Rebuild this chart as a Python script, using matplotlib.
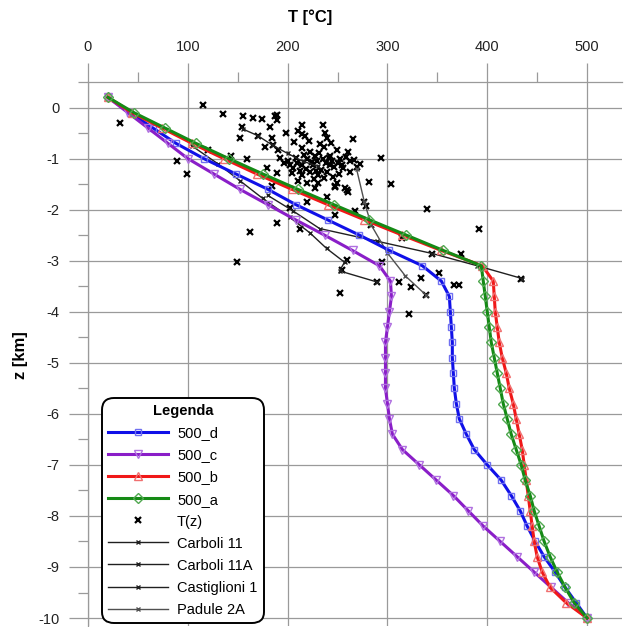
import matplotlib
matplotlib.use("Agg")
import matplotlib.pyplot as plt
from matplotlib.ticker import FixedLocator

plt.rcParams['font.family'] = ['Liberation Sans', 'DejaVu Sans']

# ---------------- data ----------------
z_model = [0.2, -0.1, -0.4, -0.7, -1.0, -1.3, -1.6, -1.9, -2.2, -2.5, -2.8, -3.1,
           -3.4, -3.7, -4.0, -4.3, -4.6, -4.9, -5.2, -5.5, -5.8, -6.1, -6.4, -6.7,
           -7.0, -7.3, -7.6, -7.9, -8.2, -8.5, -8.8, -9.1, -9.4, -9.7, -10.0]

t_500_d = [20, 42, 65, 88, 116, 148, 180, 208, 240, 272, 302, 335,
           354, 362, 363, 364, 365, 365, 366, 367, 369, 372, 379, 387,
           400, 414, 424, 433, 440, 448, 457, 468, 478, 489, 500]
t_500_c = [20, 40, 60, 80, 100, 126, 152, 180, 208, 237, 265, 292,
           303, 304, 302, 300, 298, 298, 298, 298, 300, 302, 305, 315,
           332, 349, 366, 381, 396, 413, 430, 447, 464, 481, 500]
t_500_b = [20, 44, 74, 104, 136, 169, 204, 240, 277, 315, 354, 395,
           406, 407, 408, 410, 412, 415, 419, 422, 426, 429, 432, 435,
           437, 439, 441, 443, 445, 447, 450, 455, 463, 479, 500]
t_500_a = [20, 46, 77, 108, 141, 175, 210, 246, 282, 319, 356, 394,
           396, 398, 400, 402, 404, 407, 410, 413, 416, 420, 424, 429,
           434, 438, 443, 447, 452, 457, 463, 470, 478, 487, 500]

t_obs = [32, 115, 135, 155, 165, 174, 187, 189, 189, 154, 152, 182, 184, 185, 177,
         190, 210, 214, 217, 214, 235, 237, 239, 232, 214, 222, 249, 260, 242, 89,
         99, 159, 120, 192, 200, 209, 219, 229, 235, 252, 202, 214, 225, 242, 250,
         255, 262, 269, 294, 304, 340, 179, 189, 204, 214, 222, 230, 239, 245, 210,
         219, 230, 227, 249, 257, 260, 247, 184, 219, 239, 277, 279, 267, 247, 202,
         189, 162, 212, 284, 315, 392, 345, 374, 434, 295, 259, 254, 290, 312, 324,
         334, 352, 367, 372, 339, 252, 322, 149, 259, 247, 196, 205, 227, 233, 244,
         258, 266, 273, 206, 221, 236, 198, 243, 265, 226, 212, 251, 282, 170, 143,
         216, 224, 238, 246, 254, 231, 208, 218, 241, 228, 236, 262]
z_obs = [-0.31, 0.04, -0.12, -0.16, -0.2, -0.23, -0.16, -0.25, -0.14, -0.39, -0.59, -0.39, -0.59, -0.74, -0.78,
         -0.83, -0.45, -0.51, -0.56, -0.35, -0.35, -0.5, -0.6, -0.72, -0.8, -0.88, -0.84, -0.88, -0.94, -1.04,
         -1.31, -1.0, -0.84, -0.98, -1.04, -1.08, -1.0, -1.04, -1.0, -1.0, -1.13, -1.13, -1.13, -1.13, -1.09,
         -1.19, -1.27, -1.17, -0.98, -1.49, -1.98, -1.19, -1.29, -1.29, -1.33, -1.27, -1.33, -1.27, -1.37, -1.43,
         -1.47, -1.47, -1.57, -1.47, -1.57, -1.66, -1.53, -1.53, -1.86, -1.76, -1.86, -1.92, -2.02, -2.11, -1.96,
         -2.27, -2.43, -2.37, -2.31, -2.56, -2.37, -2.86, -2.86, -3.35, -3.03, -2.99, -3.19, -3.42, -3.42, -3.52,
         -3.33, -3.25, -3.48, -3.48, -3.68, -3.64, -4.05, -3.03, -1.62, -1.55, -1.08, -1.18, -0.95, -1.22, -1.05,
         -0.96, -1.02, -1.1, -0.68, -0.66, -0.78, -0.5, -0.7, -0.62, -1.4, -1.25, -1.3, -1.45, -0.55, -0.95,
         -0.92, -1.06, -1.08, -1.16, -1.12, -0.9, -0.98, -1.2, -0.98, -1.24, -1.38, -1.05]

carboli11_t = [155, 170, 185, 200, 215, 230]
carboli11_z = [-0.42, -0.55, -0.74, -0.9, -1.05, -1.15]
carboli11a_t = [104, 130, 152, 175, 202, 222, 239, 257, 252, 290]
carboli11a_z = [-0.75, -1.1, -1.43, -1.78, -2.15, -2.45, -2.76, -3.03, -3.2, -3.42]
castiglioni1_t = [180, 205, 232, 290, 345, 390, 435]
castiglioni1_z = [-1.72, -2.02, -2.37, -2.62, -2.86, -3.1, -3.35]
padule2a_t = [269, 277, 284, 300, 318, 339]
padule2a_z = [-1.2, -1.86, -2.31, -2.85, -3.3, -3.68]

x_ticks = [0, 100, 200, 300, 400, 500]
y_ticks = [0, -1, -2, -3, -4, -5, -6, -7, -8, -9, -10]

# ---------------- figure ----------------
fig = plt.figure(figsize=(6.29, 6.27), dpi=100)
ax = fig.add_axes([0.1399, 0.0021, 0.849, 0.8671])

well_kw = dict(lw=1.0, marker='x', markersize=3.5, markeredgewidth=1.0, zorder=2)
ax.plot(t_obs, z_obs, linestyle='none', marker='x', color='black', markersize=5,
        markeredgewidth=1.6, label='T(z)', zorder=2)
ax.plot(carboli11_t, carboli11_z, color='#202020', label='Carboli 11', **well_kw)
ax.plot(carboli11a_t, carboli11a_z, color='#202020', label='Carboli 11A', **well_kw)
ax.plot(castiglioni1_t, castiglioni1_z, color='#202020', label='Castiglioni 1', **well_kw)
ax.plot(padule2a_t, padule2a_z, color='#505050', label='Padule 2A', **well_kw)

ax.plot(t_500_d, z_model, color='#1010e8', lw=2.2, marker='s', markersize=5,
        markerfacecolor='none', markeredgecolor='#7070f0', markeredgewidth=1.0,
        label='500_d', zorder=3)
ax.plot(t_500_c, z_model, color='#8a1ec8', lw=2.2, marker='v', markersize=6,
        markerfacecolor='none', markeredgecolor='#b070e0', markeredgewidth=1.0,
        label='500_c', zorder=3)
ax.plot(t_500_b, z_model, color='#f01818', lw=2.2, marker='^', markersize=6,
        markerfacecolor='none', markeredgecolor='#f07070', markeredgewidth=1.0,
        label='500_b', zorder=3)
ax.plot(t_500_a, z_model, color='#158a15', lw=2.2, marker='D', markersize=5,
        markerfacecolor='none', markeredgecolor='#50a850', markeredgewidth=1.0,
        label='500_a', zorder=3)

ax.set_xlim(0, 535)
ax.set_ylim(-10.15, 0.5)

ax.xaxis.tick_top()
ax.xaxis.set_major_locator(FixedLocator(x_ticks))
ax.xaxis.set_minor_locator(FixedLocator([50, 150, 250, 350, 450]))
ax.yaxis.set_major_locator(FixedLocator(y_ticks))
ax.yaxis.set_minor_locator(FixedLocator([0.5 - i for i in range(11)]))
ax.set_xticklabels([str(v) for v in x_ticks])
ax.set_yticklabels([str(v) for v in y_ticks])

gc = '#9a9a9a'
ax.tick_params(axis='both', which='major', direction='out', length=13.5, width=0.9,
               color=gc, labelsize=10.5, labelcolor='#222222', pad=7)
ax.tick_params(axis='both', which='minor', direction='out', length=7, width=0.9, color=gc)
ax.grid(True, which='major', color=gc, lw=0.9)
ax.set_axisbelow(True)
for s in ['right', 'bottom']:
    ax.spines[s].set_visible(False)
for s in ['top', 'left']:
    ax.spines[s].set_color(gc)
    ax.spines[s].set_linewidth(0.9)

fig.text(310 / 629, 1 - 17 / 627, 'T [°C]', ha='center', va='center',
         fontsize=12, fontweight='bold')
fig.text(20 / 629, 1 - 355 / 627, 'z [km]', ha='center', va='center',
         fontsize=12, fontweight='bold', rotation=90)

handles, labels = ax.get_legend_handles_labels()
order = ['500_d', '500_c', '500_b', '500_a', 'T(z)', 'Carboli 11', 'Carboli 11A',
         'Castiglioni 1', 'Padule 2A']
hmap = dict(zip(labels, handles))
leg = ax.legend([hmap[k] for k in order], order, loc='upper left',
                bbox_to_anchor=(0.026, 0.419), borderaxespad=0, fontsize=10.5,
                title='Legenda', title_fontproperties={'weight': 'bold', 'size': 10.5},
                numpoints=1, handlelength=4.1, handletextpad=0.6, labelspacing=0.55,
                borderpad=0.45, frameon=True, fancybox=True, framealpha=1,
                edgecolor='black')
leg.get_frame().set_linewidth(1.4)
leg.get_frame().set_boxstyle('round', pad=0.0, rounding_size=0.8)
leg.set_zorder(5)

fig.savefig('out.png', dpi=100)
